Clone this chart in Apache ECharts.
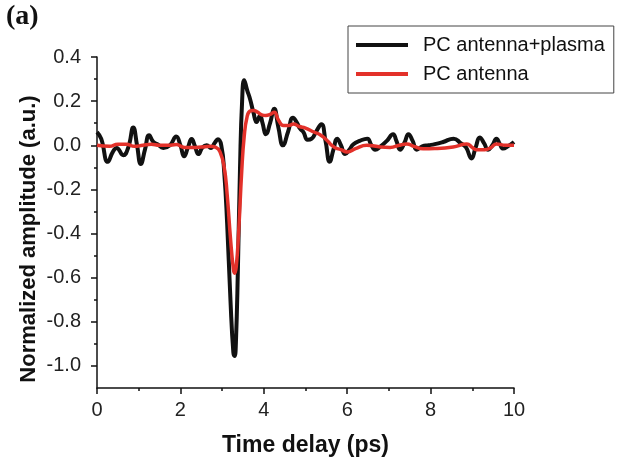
<!DOCTYPE html>
<html>
<head>
<meta charset="utf-8">
<script src="https://cdn.jsdelivr.net/npm/echarts@6/dist/echarts.min.js"></script>
<style>
    html, body { margin: 0; padding: 0; background: #fff; }
    #chart { width: 625px; height: 465px; }
</style>
</head>
<body>
<div id="chart"></div>
<script>
var blackTime = [0.00, 0.10, 0.26, 0.38, 0.47, 0.63, 0.75, 0.87, 0.96, 1.05, 1.15, 1.25, 1.35, 1.45, 1.59, 1.75, 1.90, 2.00,
    2.09, 2.18, 2.27, 2.35, 2.43, 2.53, 2.63, 2.73, 2.82, 2.90, 2.98, 3.05, 3.12, 3.20, 3.27, 3.30, 3.33, 3.38, 3.43,
    3.48, 3.53, 3.60, 3.67, 3.75, 3.83, 3.91, 3.97, 4.05, 4.15, 4.25, 4.35, 4.46, 4.58, 4.70, 4.80, 4.87, 4.95, 5.05,
    5.15, 5.25, 5.38, 5.48, 5.58, 5.67, 5.76, 5.85, 5.95, 6.05, 6.15, 6.30, 6.48, 6.58, 6.67, 6.80, 6.95, 7.10, 7.18,
    7.27, 7.37, 7.47, 7.57, 7.67, 7.80, 7.95, 8.10, 8.30, 8.55, 8.72, 8.85, 8.98, 9.08, 9.18, 9.28, 9.38, 9.48, 9.58,
    9.66, 9.74, 9.85, 10.00];
var blackAmp = [0.06, 0.03, -0.075, -0.03, -0.012, -0.045, -0.01, 0.08, 0.0, -0.085, -0.02, 0.045, 0.015, 0.005, -0.012, 0.0, 0.04, 0.0,
    -0.05, -0.01, 0.028, -0.005, -0.04, -0.01, 0.0, -0.012, 0.01, 0.027, 0.0, -0.12, -0.35, -0.7, -0.94, -0.955, -0.9, -0.55, -0.1,
    0.2, 0.295, 0.25, 0.21, 0.15, 0.105, 0.135, 0.1, 0.05, 0.1, 0.165, 0.08, 0.0, 0.06, 0.125, 0.1, 0.075, 0.06, 0.025,
    0.03, 0.06, 0.095, 0.02, -0.075, -0.02, 0.03, 0.0, -0.04, -0.02, 0.005, 0.02, 0.03, 0.0, -0.02, -0.005, 0.02, 0.05, 0.02,
    -0.02, 0.01, 0.05, 0.02, -0.02, -0.005, 0.0, 0.005, 0.015, 0.03, 0.01, -0.01, -0.06, -0.01, 0.035, 0.01, -0.02, 0.0, 0.03,
    0.005, -0.015, -0.005, 0.015];

var redTime = [0.0, 0.3, 0.5, 0.7, 0.9, 1.1, 1.3, 1.5, 1.7, 1.9, 2.1, 2.3, 2.5, 2.7, 2.85, 2.95, 3.05, 3.12, 3.2, 3.27,
    3.30, 3.34, 3.40, 3.47, 3.53, 3.60, 3.67, 3.75, 3.85, 3.95, 4.05, 4.15, 4.25, 4.35, 4.47, 4.60, 4.71, 4.85, 5.0,
    5.2, 5.35, 5.5, 5.6, 5.7, 5.85, 6.0, 6.2, 6.47, 6.8, 7.03, 7.25, 7.43, 7.6, 7.82, 8.1, 8.54, 8.87, 9.0, 9.1, 9.3,
    9.45, 9.58, 9.8, 10.0];
var redAmp = [0.0, -0.005, 0.005, 0.005, -0.005, 0.0, 0.005, 0.0, 0.0, 0.003, -0.01, -0.01, -0.008, -0.005, -0.01, -0.03, -0.1, -0.22, -0.42, -0.56,
    -0.58, -0.55, -0.38, -0.12, 0.04, 0.13, 0.155, 0.158, 0.15, 0.138, 0.135, 0.14, 0.15, 0.115, 0.09, 0.09, 0.096, 0.085, 0.078,
    0.06, 0.048, 0.025, 0.005, -0.01, -0.02, -0.03, -0.015, 0.0, -0.008, -0.01, 0.0, 0.006, -0.005, -0.016, -0.015, -0.008, 0.006, -0.01, -0.02, -0.02,
    -0.01, 0.006, 0.0, 0.0];

var yMajor = [0.4, 0.2, 0.0, -0.2, -0.4, -0.6, -0.8, -1.0];
var yMinor = [0.3, 0.1, -0.1, -0.3, -0.5, -0.7, -0.9];

function pairs(xs, ys) {
    var out = [];
    for (var i = 0; i < xs.length; i++) {
        out.push([xs[i], ys[i]]);
    }
    return out;
}

var font = '"Liberation Sans", Arial, sans-serif';
var chart = echarts.init(document.getElementById('chart'));

chart.setOption({
    animation: false,
    grid: {left: 97, top: 57, width: 417, height: 331, containLabel: false},
    graphic: [{
        type: 'text', left: 6, top: 3,
        style: {text: '(a)', font: 'bold 28px "Liberation Serif", serif', fill: '#111'}
    }, {
        // y title sits a bit below the plot centre in the original
        type: 'text', x: 29, y: 239, rotation: Math.PI / 2,
        style: {
            text: 'Normalized amplitude (a.u.)', font: 'bold 22px ' + font, fill: '#111',
            align: 'center', verticalAlign: 'middle'
        }
    }],
    legend: {
        orient: 'vertical',
        left: 348, top: 26,
        padding: [9, 9, 9, 8],
        itemGap: 9,
        itemWidth: 52, itemHeight: 4,
        icon: 'rect',
        borderColor: '#444', borderWidth: 1,
        textStyle: {fontFamily: font, fontSize: 20, color: '#111', lineHeight: 20, padding: [0, 0, 0, 10]},
        data: ['PC antenna+plasma', 'PC antenna']
    },
    xAxis: {
        type: 'value', min: 0, max: 10, interval: 2,
        name: 'Time delay (ps)', nameLocation: 'middle', nameGap: 46,
        nameTextStyle: {fontFamily: font, fontSize: 23, fontWeight: 'bold', color: '#111'},
        axisLine: {onZero: false, lineStyle: {color: '#111', width: 1.5}},
        axisTick: {length: 6, lineStyle: {color: '#111', width: 1.5}},
        minorTick: {show: true, splitNumber: 2, length: 3, lineStyle: {color: '#111', width: 1.5}},
        splitLine: {show: false},
        axisLabel: {fontFamily: font, fontSize: 20, color: '#222', margin: 12}
    },
    yAxis: [{
        type: 'value', min: -1.1, max: 0.4,
        axisLine: {show: true, lineStyle: {color: '#111', width: 1.5}},
        axisTick: {show: true, length: 6, customValues: yMajor, lineStyle: {color: '#111', width: 1.5}},
        splitLine: {show: false},
        axisLabel: {
            fontFamily: font, fontSize: 20, color: '#222', margin: 16, customValues: yMajor,
            formatter: function (v) { return v.toFixed(1); }
        }
    }, {
        type: 'value', min: -1.1, max: 0.4, position: 'left',
        axisLine: {show: false},
        axisTick: {show: true, length: 3, customValues: yMinor, lineStyle: {color: '#111', width: 1.5}},
        axisLabel: {show: false},
        splitLine: {show: false}
    }],
    series: [{
        name: 'PC antenna+plasma', type: 'line', yAxisIndex: 0,
        data: pairs(blackTime, blackAmp),
        smooth: 0.5, showSymbol: false,
        lineStyle: {color: '#111', width: 4},
        itemStyle: {color: '#111'}
    }, {
        name: 'PC antenna', type: 'line', yAxisIndex: 0,
        data: pairs(redTime, redAmp),
        smooth: 0.5, showSymbol: false,
        lineStyle: {color: '#e3312a', width: 3.5},
        itemStyle: {color: '#e3312a'}
    }]
});
</script>
</body>
</html>
